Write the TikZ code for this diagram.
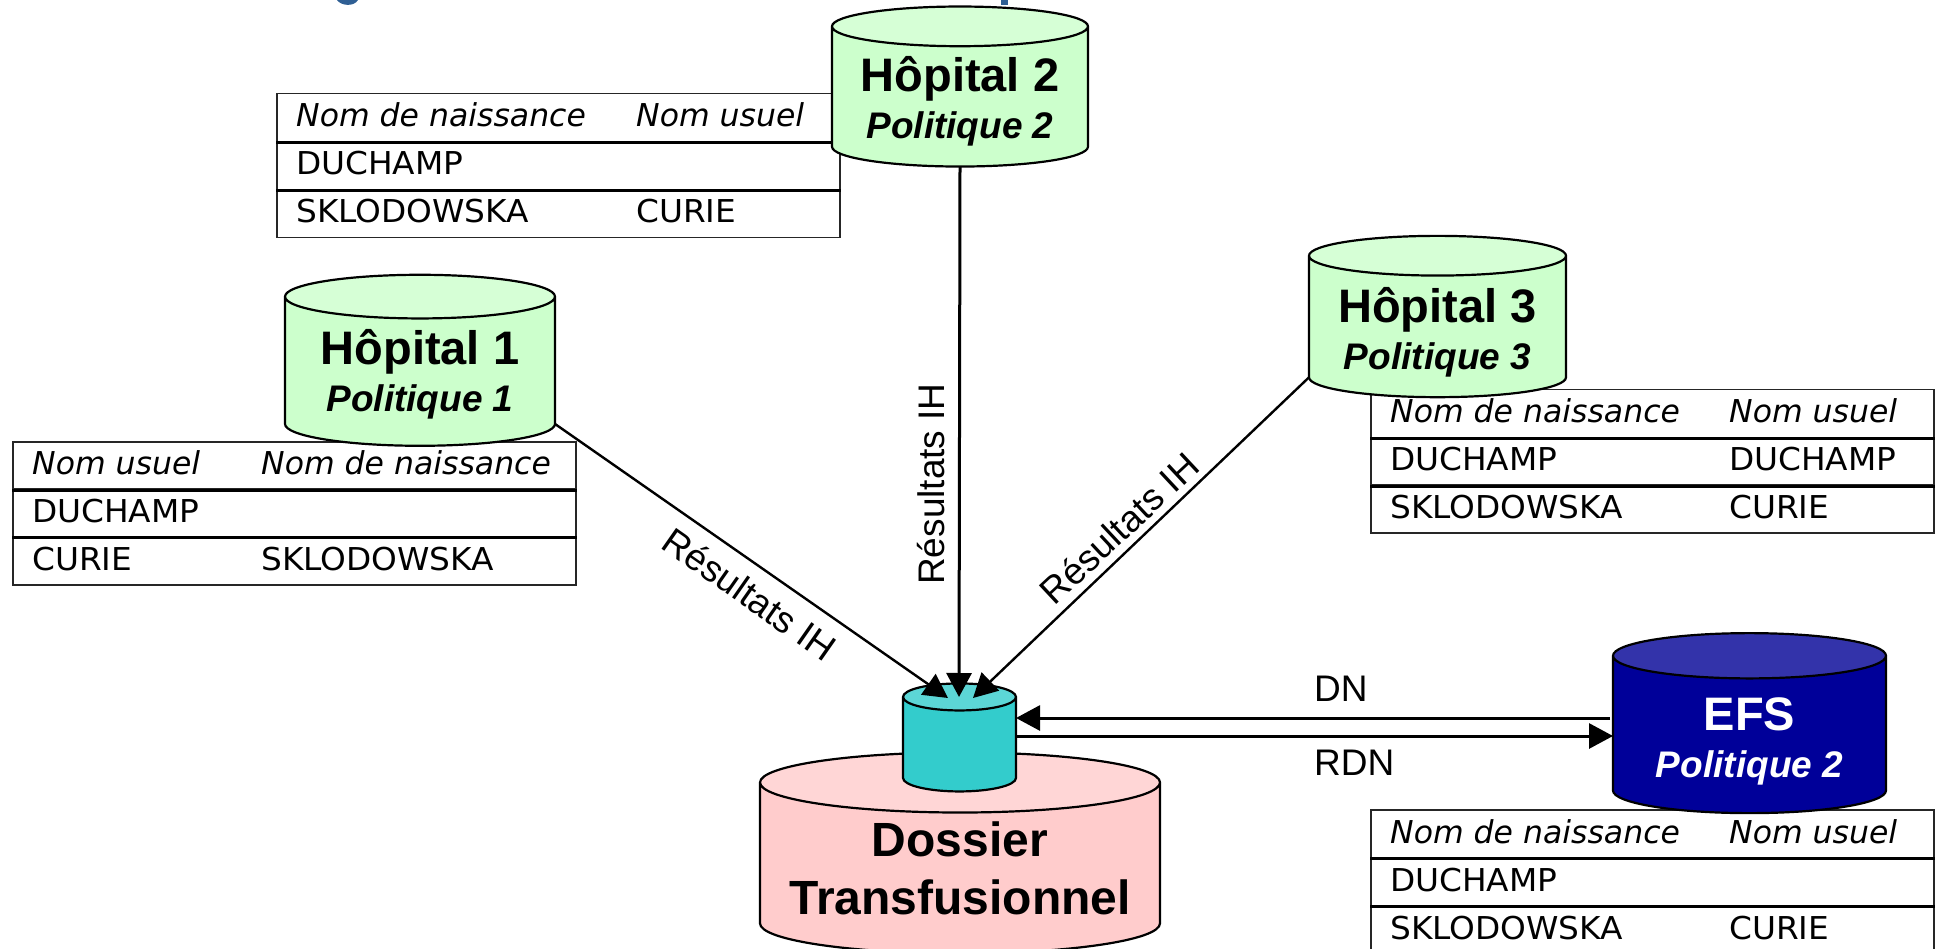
\documentclass[tikz,border=0pt]{standalone}
\usepackage{fontspec}
\setmainfont{Liberation Sans}
\newfontfamily\tablefont[UprightFeatures={FakeStretch=1.04}]{DejaVu Sans}
\usetikzlibrary{shapes.geometric,arrows.meta}

\definecolor{titleblue}{HTML}{2F5F94}
\definecolor{hopbody}{HTML}{CCFFCC}
\definecolor{hopend}{HTML}{D6FFD6}
\definecolor{dosbody}{HTML}{FFCCCC}
\definecolor{dosend}{HTML}{FFD6D6}
\definecolor{ihbody}{HTML}{33CCCC}
\definecolor{ihend}{HTML}{5CD6D6}
\definecolor{efsbody}{HTML}{000099}
\definecolor{efsend}{HTML}{3333AA}

% one table row: name, left, top, offset of second column, left text, right text
\newcommand{\polrow}[6]{
  \node[rowcell] (#1) at (#2,#3) {};
  \node[celltext,xshift=20pt,yshift=-34pt] (#1a) at (#2,#3) {#5};
  \node[celltext,xshift=#4pt,yshift=-34pt] (#1b) at (#2,#3) {#6};
}

\tikzset{
  dbase/.style = {
    draw = black,
    line width = 2.2pt,
    shape = cylinder,
    shape border rotate = 90,
    cylinder uses custom fill,
    outer sep = 0pt,
    inner sep = 0pt,
    align = center,
    font = \fontsize{47}{47}\selectfont\bfseries},
  hopital/.style = {
    dbase,
    cylinder body fill = hopbody,
    cylinder end fill = hopend},
  rowcell/.style = {
    draw = black!85,
    line width = 1.5pt,
    anchor = north west,
    minimum width = 563pt,
    minimum height = 48pt,
    inner sep = 0pt},
  celltext/.style = {
    anchor = base west,
    inner sep = 0pt,
    font = \tablefont\fontsize{31.5}{36}\selectfont},
  rowline/.style = {line width = 3pt},
  flow/.style = {
    line width = 2.4pt,
    -{Triangle[length=24pt,width=25pt]}},
  flowlabel/.style = {
    inner sep = 0pt,
    font = \fontsize{37}{40}\selectfont}
}

\newcommand{\dbpol}{\fontsize{37}{47}\selectfont\itshape}
\newcommand{\dbtop}{\rule{0pt}{46pt}}

\begin{document}
\begin{tikzpicture}[x=1pt,y=-1pt]
  \useasboundingbox (0,0) rectangle (1936,949);
  \clip (0,0) rectangle (1936,949);

  % what is left of the title
  \fill[titleblue] (337,0) .. controls (341,6) and (354,7) .. (358,0) -- cycle;
  \fill[titleblue] (1001,0) rectangle (1008,5);

  % tables
  \polrow{ta}{12}{441}{249}{\textit{Nom usuel}}{\textit{Nom de naissance}}
  \polrow{tb}{12}{488}{249}{DUCHAMP}{}
  \polrow{tc}{12}{536}{249}{CURIE}{SKLODOWSKA}
  \draw[rowline] (ta.south west) -- (ta.south east);
  \draw[rowline] (tb.south west) -- (tb.south east);

  \polrow{ua}{276}{93}{360}{\textit{Nom de naissance}}{\textit{Nom usuel}}
  \polrow{ub}{276}{141}{360}{DUCHAMP}{}
  \polrow{uc}{276}{189}{360}{SKLODOWSKA}{CURIE}
  \draw[rowline] (ua.south west) -- (ua.south east);
  \draw[rowline] (ub.south west) -- (ub.south east);

  \polrow{va}{1370}{389}{359}{\textit{Nom de naissance}}{\textit{Nom usuel}}
  \polrow{vb}{1370}{437}{359}{DUCHAMP}{DUCHAMP}
  \polrow{vc}{1370}{484}{359}{SKLODOWSKA}{CURIE}
  \draw[rowline] (va.south west) -- (va.south east);
  \draw[rowline] (vb.south west) -- (vb.south east);

  \polrow{wa}{1370}{809}{359}{\textit{Nom de naissance}}{\textit{Nom usuel}}
  \polrow{wb}{1370}{857}{359}{DUCHAMP}{}
  \polrow{wc}{1370}{905}{359}{SKLODOWSKA}{CURIE}
  \draw[rowline] (wa.south west) -- (wa.south east);
  \draw[rowline] (wb.south west) -- (wb.south east);

  % databases
  \node[hopital,minimum width=270pt,minimum height=171pt,aspect=0.22] (h1) at (420,371.75)
    {\rule{0pt}{41pt}Hôpital 1\\ \dbpol Politique 1};
  \node[hopital,minimum width=256pt,minimum height=160pt,aspect=0.2] (h2) at (960,97)
    {\rule{0pt}{44pt}Hôpital 2\\ \dbpol Politique 2};
  \node[hopital,minimum width=257pt,minimum height=160pt,aspect=0.2] (h3) at (1437.5,327)
    {\dbtop Hôpital 3\\ \dbpol Politique 3};
  \node[dbase,cylinder body fill=efsbody,cylinder end fill=efsend,text=white,
    minimum width=273pt,minimum height=180pt,aspect=0.242] (efs) at (1749.5,735)
    {\dbtop EFS\\ \dbpol Politique 2};
  \node[dbase,cylinder body fill=dosbody,cylinder end fill=dosend,
    font=\fontsize{48}{58}\selectfont\bfseries,
    minimum width=400pt,minimum height=201pt,aspect=0.176] (dos) at (960,868.5)
    {Dossier\\ Transfusionnel};
  \node[dbase,cylinder body fill=ihbody,cylinder end fill=ihend,
    minimum width=113pt,minimum height=108pt,aspect=0.239] (ih) at (959.5,744.75) {\rule{113pt}{0pt}};

  % flows
  \coordinate (ihn) at (959,697);
  \coordinate (ihl) at (948,698);
  \coordinate (ihr) at (973,698);
  \coordinate (dn) at (1610,718);
  \coordinate (rdn) at (1610,736);
  \draw[flow] (h1.before bottom) -- (ihl);
  \draw[flow,line width=3pt] (h2.bottom) -- (ihn);
  \draw[flow] (h3.after bottom) -- (ihr);
  \draw[flow,line width=3pt] (dn) -- (ih.east |- dn);
  \draw[flow,line width=3pt] (ih.east |- rdn) -- (efs.west |- rdn);

  % flow labels
  \node[flowlabel,rotate=-35] (l1) at (750,594) {Résultats IH};
  \node[flowlabel,rotate=90] (l2) at (931,484) {Résultats IH};
  \node[flowlabel,rotate=43] (l3) at (1119,528) {Résultats IH};
  \node[flowlabel,anchor=base west] (l4) at (1314,701) {DN};
  \node[flowlabel,anchor=base west] (l5) at (1314,775) {RDN};
\end{tikzpicture}
\end{document}
